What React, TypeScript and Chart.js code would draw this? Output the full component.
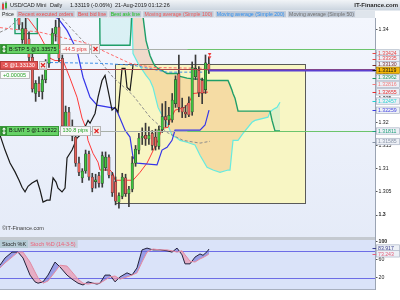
import React, { useEffect, useRef } from 'react';
import { Chart, registerables } from 'chart.js';

Chart.register(...registerables);

const FONT = "'Liberation Sans', Arial, sans-serif";

// ---------------- candles (trading-day index, 0 = 03-Jun-2019) ----------------
const opens = [
  1.3440, 1.3378, 1.3402, 1.3380, 1.3340, 1.3262, 1.3284, 1.3266, 1.3292, 1.3326,
  1.3360, 1.3390, 1.3405, 1.3338, 1.3190, 1.3222, 1.3190, 1.3168, 1.3112, 1.3080,
  1.3095, 1.3132, 1.3082, 1.3072, 1.3085, 1.3068, 1.3102, 1.3125, 1.3086, 1.3072,
  1.3028, 1.3040, 1.3080, 1.3046, 1.3056, 1.3112, 1.3140, 1.3166, 1.3172, 1.3164,
  1.3176, 1.3168, 1.3148, 1.3184, 1.3212, 1.3205, 1.3205, 1.3240, 1.3305, 1.3232,
  1.3222, 1.3242, 1.3222, 1.3298, 1.3312, 1.3290, 1.3270, 1.3326,
];
const highs = [
  1.3460, 1.3415, 1.3425, 1.3395, 1.3350, 1.3290, 1.3298, 1.3302, 1.3335, 1.3368,
  1.3402, 1.3420, 1.3430, 1.3345, 1.3235, 1.3232, 1.3205, 1.3178, 1.3125, 1.3100,
  1.3140, 1.3138, 1.3090, 1.3088, 1.3092, 1.3136, 1.3136, 1.3130, 1.3092, 1.3082,
  1.3048, 1.3090, 1.3088, 1.3062, 1.3126, 1.3150, 1.3176, 1.3188, 1.3198, 1.3190,
  1.3182, 1.3185, 1.3192, 1.3240, 1.3245, 1.3232, 1.3262, 1.3300, 1.3345, 1.3252,
  1.3236, 1.3255, 1.3330, 1.3345, 1.3320, 1.3295, 1.3345, 1.3340,
];
const lows = [
  1.3400, 1.3370, 1.3350, 1.3330, 1.3265, 1.3245, 1.3255, 1.3250, 1.3285, 1.3318,
  1.3350, 1.3375, 1.3330, 1.3180, 1.3178, 1.3180, 1.3160, 1.3105, 1.3085, 1.3070,
  1.3090, 1.3075, 1.3050, 1.3058, 1.3060, 1.3060, 1.3096, 1.3080, 1.3040, 1.3022,
  1.3015, 1.3035, 1.3040, 1.3018, 1.3050, 1.3105, 1.3132, 1.3152, 1.3150, 1.3152,
  1.3140, 1.3140, 1.3142, 1.3178, 1.3190, 1.3195, 1.3200, 1.3232, 1.3222, 1.3210,
  1.3210, 1.3212, 1.3215, 1.3292, 1.3255, 1.3240, 1.3262, 1.3305,
];
const closes = [
  1.3410, 1.3402, 1.3358, 1.3340, 1.3272, 1.3284, 1.3266, 1.3292, 1.3326, 1.3360,
  1.3392, 1.3405, 1.3338, 1.3192, 1.3222, 1.3190, 1.3170, 1.3112, 1.3092, 1.3095,
  1.3132, 1.3082, 1.3058, 1.3076, 1.3068, 1.3128, 1.3125, 1.3086, 1.3048, 1.3030,
  1.3042, 1.3082, 1.3046, 1.3056, 1.3112, 1.3142, 1.3166, 1.3170, 1.3164, 1.3172,
  1.3150, 1.3148, 1.3184, 1.3212, 1.3205, 1.3215, 1.3248, 1.3292, 1.3232, 1.3222,
  1.3218, 1.3216, 1.3318, 1.3316, 1.3264, 1.3262, 1.3328, 1.33119,
];

// ---------------- x axis ----------------
const X_MIN = -5.71;
const X_MAX = 106.9;
const xTickIdx = [0, 3.6, 7.2, 11.4, 15.3, 20.4, 24.0, 27.9, 32.1, 36.3, 42.9, 48.4, 52.9, 57.1, 61.0, 64.0, 69.1, 73.3, 77.5, 81.7, 85.3, 89.2, 93.1, 97.3, 101.5];
const xTickLabels = ['Jun', '06', '12', '18', '24', 'Jul', '05', '11', '17', '23', 'Aug', '09', '15', '21', '27', 'Sep', '08', '13', '19', '25', 'Oct', '07', '13', '18', '24'];
const monthLabels = ['Jun', 'Jul', 'Aug', 'Sep', 'Oct'];

// ---------------- price axis ----------------
const Y_MIN = 1.29656;
const Y_MAX = 1.34247;
const yTicks = [1.3, 1.305, 1.31, 1.315, 1.32, 1.325, 1.33, 1.335, 1.34];

// ---------------- Ichimoku cloud (Senkou A cyan / Senkou B green) ----------------
const cloudIdx = [
  -5.71, -1.29, -1.20, 5.41, 5.50, 24.23, 24.32, 33.33, 33.63, 33.93, 34.23, 35.74, 36.94, 38.14,
  39.34, 40.24, 40.84, 41.74, 42.94, 44.45, 45.95, 47.45, 48.35, 50.45, 52.85, 54.35, 56.46, 58.26,
  60.36, 62.76, 63.36, 63.96, 64.26, 64.86, 65.77, 67.27, 69.97, 70.87, 74.77, 75.38, 75.98, 76.88,
  77.48, 78.38,
];
const senkouA = [
  1.3445, 1.3445, 1.3445, 1.3445, 1.3445, 1.3445, 1.3445, 1.3445, 1.3445, 1.3445, 1.3348, 1.3327, 1.3314, 1.3301,
  1.3290, 1.3275, 1.3258, 1.3232, 1.3215, 1.3198, 1.3172, 1.3166, 1.3161, 1.3157, 1.3151, 1.3129, 1.3103, 1.3097,
  1.3092, 1.3097, 1.3097, 1.3140, 1.3161, 1.3161, 1.3161, 1.3176, 1.3200, 1.3204, 1.3211, 1.3222, 1.3226, 1.3230,
  1.3232, 1.3243,
];
const senkouB = [
  1.3445, 1.3445, 1.3391, 1.3391, 1.3445, 1.3445, 1.3366, 1.3366, 1.3400, 1.3445, 1.3445, 1.3445, 1.3445, 1.3376,
  1.3344, 1.3329, 1.3321, 1.3316, 1.3312, 1.3305, 1.3305, 1.3305, 1.3299, 1.3295, 1.3293, 1.3293, 1.3290, 1.3290,
  1.3290, 1.3290, 1.3280, 1.3269, 1.3262, 1.3252, 1.3224, 1.3224, 1.3224, 1.3224, 1.3224, 1.3224, 1.3204, 1.3181,
  1.3181, 1.3181,
];

// Tenkan (red)
const tenkanIdx = [-5.71, 2.70, 5.41, 7.81, 9.31, 10.81, 13.21, 15.31, 17.42, 18.92, 20.12, 20.72, 22.22, 23.72, 24.32, 27.33, 28.23, 28.83, 34.23, 36.34, 38.44, 39.34, 41.74, 42.94, 44.75, 45.35, 46.85, 49.85, 51.36, 52.26, 56.76];
const tenkanVal = [1.3460, 1.3424, 1.3398, 1.3366, 1.3338, 1.3333, 1.3333, 1.3295, 1.3254, 1.3209, 1.3187, 1.3161, 1.3133, 1.3114, 1.3097, 1.3097, 1.3090, 1.3075, 1.3075, 1.3092, 1.3112, 1.3125, 1.3161, 1.3187, 1.3189, 1.3204, 1.3226, 1.3232, 1.3247, 1.3262, 1.3265];

// Kijun (blue)
const kijunIdx = [-5.71, 11.71, 14.41, 17.42, 19.22, 21.32, 23.42, 28.83, 29.73, 31.83, 33.33, 34.23, 35.43, 41.44, 42.94, 44.45, 45.95, 46.85, 54.35, 55.86, 57.06];
const kijunVal = [1.3470, 1.3424, 1.3398, 1.3355, 1.3297, 1.3254, 1.3237, 1.3230, 1.3219, 1.3183, 1.3168, 1.3125, 1.3112, 1.3108, 1.3140, 1.3146, 1.3161, 1.3183, 1.3183, 1.3194, 1.3226];

// Chikou (black, lagging close)
const chikouIdx = [-5.70, -4.20, -2.70, -1.20, 0.01, 0.91, 1.81, 2.71, 3.91, 5.41, 6.31, 7.21, 8.41, 9.32, 10.22, 11.12, 11.72, 12.92, 13.82, 14.42, 15.92, 17.42, 18.92, 20.73, 21.33, 22.83, 23.73, 24.93, 25.83, 26.73, 27.93, 28.83, 29.74, 30.94, 31.84, 32.44, 33.34, 34.24];
const chikouVal = [1.3172, 1.3140, 1.3112, 1.3093, 1.3075, 1.3060, 1.3050, 1.3062, 1.3069, 1.3075, 1.3054, 1.3028, 1.3032, 1.3032, 1.3080, 1.3071, 1.3058, 1.3050, 1.3058, 1.3123, 1.3140, 1.3166, 1.3176, 1.3204, 1.3198, 1.3219, 1.3254, 1.3290, 1.3301, 1.3269, 1.3226, 1.3232, 1.3222, 1.3316, 1.3316, 1.3275, 1.3269, 1.3323];

// Moving averages (dashed)
const ma50Idx = [-5.71, -3.30, -0.30, 3.30, 12.91, 16.22, 21.32, 28.23, 34.23, 39.34, 44.45, 49.25, 54.35, 57.36];
const ma50Val = [1.3394, 1.3402, 1.3422, 1.3440, 1.3424, 1.3398, 1.3359, 1.3297, 1.3258, 1.3211, 1.3178, 1.3161, 1.3155, 1.3159];
const ma100Idx = [-5.71, 6.31, 20.42, 33.33, 40.24, 57.36];
const ma100Val = [1.3404, 1.3394, 1.3370, 1.3327, 1.3318, 1.3316];
const ma200Idx = [-5.71, 7.21, 24.32, 34.23, 44.45, 57.36];
const ma200Val = [1.3329, 1.3329, 1.3327, 1.3323, 1.3308, 1.3308];

// ---------------- Stochastic (14-3-5) ----------------
const stochIdx = [-5.71, -4.20, -2.10, -0.30, 1.20, 3.30, 4.80, 5.71, 7.21, 8.71, 10.81, 12.31, 14.41, 15.92, 17.72, 19.22, 20.72, 22.22, 23.42, 24.32, 25.83, 27.33, 28.83, 30.33, 32.43, 33.93, 35.43, 36.94, 38.44, 40.24, 42.34, 44.45, 45.95, 47.45, 48.95, 49.85, 51.35, 52.85, 54.35, 55.25, 56.46, 57.06];
const stochK = [48, 64, 77, 77, 64, 26, 11, 8, 11, 26, 55, 44, 26, 17, 8, 4, 11, 8, 6, 8, 26, 26, 11, 22, 31, 26, 42, 82, 86, 82, 82, 80, 77, 86, 71, 51, 51, 66, 73, 70, 78, 83.917];
const stochD = [42, 53, 66, 77, 77, 55, 33, 20, 8, 13, 33, 48, 46, 33, 17, 8, 6, 8, 8, 8, 15, 22, 24, 17, 22, 26, 31, 55, 77, 84, 82, 82, 80, 77, 80, 71, 57, 55, 62, 65, 70, 73.243];
const STOCH_MIN = -4.9;
const STOCH_MAX = 124;
const stochTicks = [20, 40, 60, 80, 100];
const stochLevels = [20, 80];
const stochTagValues = [83.917, 73.243];
const stochTagColors = ['#3a3f8f', '#e2607c'];

// ---------------- orders / annotations ----------------
const CURRENT_PRICE = 1.33119;
const LAST_IDX = 57;
const stopOrder = { price: 1.33575, text: 'B:STP 5 @1.33575', pips: '-44.5 pips' };
const limitOrder = { price: 1.31822, text: 'B:LMT 5 @1.31822', pips: '130.8 pips' };
const positionLine = { price: 1.3313, text: '-5 @1.33130', pnl: '+0.00005' };
const ORDER_SPLIT_IDX = 50.5;
const zoneIdx = [28.8, 85.9];
const zonePrice = [1.30258, 1.33247];
const execIdx = [57.25, 57.25];
const execPrice = [1.3346, 1.3339];

const tagValues = [1.33424, 1.33335, 1.3313, 1.33119, 1.32962, 1.32816, 1.32655, 1.32457, 1.32259, 1.31811, 1.31585];
const tagColors = ['#e64646', '#e64646', '#7a2b2b', '#111111', '#1d9a63', '#ef7d7d', '#e62a2a', '#23cfd0', '#3f3fe0', '#1fa07a', '#8893a6'];

const legendItems = ['Price', 'Recent executed orders', 'Best bid line', 'Best ask line', 'Moving average (Simple 100)', 'Moving average (Simple 200)', 'Moving average (Simple 50)'];
const legendColors = ['#222222', '#f04848', '#f04848', '#1fbf1f', '#f05858', '#2f8ff0', '#707070'];

const pts = (xs: number[], ys: number[]) => xs.map((x, k) => ({ x, y: ys[k] }));

function drawX(ctx: any, x: number, yc: number) {
  ctx.strokeStyle = '#e02424';
  ctx.lineWidth = 1.2;
  ctx.beginPath();
  ctx.moveTo(x - 2, yc - 2);
  ctx.lineTo(x + 2, yc + 2);
  ctx.moveTo(x + 2, yc - 2);
  ctx.lineTo(x - 2, yc + 2);
  ctx.stroke();
}

function orderTicket(ctx: any, yc: number, text: string, pips: string, pipsColor: string) {
  ctx.font = `5.5px ${FONT}`;
  ctx.textAlign = 'left';
  ctx.textBaseline = 'middle';
  const h = 10;
  const top = Math.round(yc - h / 2);
  const w1 = Math.ceil(ctx.measureText(text).width) + 11;
  ctx.fillStyle = '#66d266';
  ctx.fillRect(0, top, w1, h);
  ctx.strokeStyle = '#3b9a3b';
  ctx.lineWidth = 1;
  ctx.strokeRect(0.5, top + 0.5, w1 - 1, h - 1);
  ctx.fillStyle = '#2f8f2f';
  ctx.fillRect(1, top + 1, 6, h - 2);
  ctx.fillStyle = '#ffffff';
  ctx.fillRect(3.5, top + 3, 1, h - 6);
  ctx.beginPath();
  ctx.moveTo(2, top + 3.5); ctx.lineTo(4, top + 1.5); ctx.lineTo(6, top + 3.5); ctx.closePath(); ctx.fill();
  ctx.beginPath();
  ctx.moveTo(2, top + h - 3.5); ctx.lineTo(4, top + h - 1.5); ctx.lineTo(6, top + h - 3.5); ctx.closePath(); ctx.fill();
  ctx.fillStyle = '#111111';
  ctx.fillText(text, 9, yc + 0.3);
  const x2 = w1 + 1;
  const w2 = Math.ceil(ctx.measureText(pips).width) + 5;
  ctx.fillStyle = '#f7f7f7';
  ctx.fillRect(x2, top, w2, h);
  ctx.strokeStyle = '#b5b5b5';
  ctx.strokeRect(x2 + 0.5, top + 0.5, w2 - 1, h - 1);
  ctx.fillStyle = pipsColor;
  ctx.fillText(pips, x2 + 2.5, yc + 0.3);
  const x3 = x2 + w2 + 1;
  ctx.fillStyle = '#efefef';
  ctx.fillRect(x3, top, 9, h);
  ctx.strokeStyle = '#b5b5b5';
  ctx.lineWidth = 1;
  ctx.strokeRect(x3 + 0.5, top + 0.5, 8, h - 1);
  drawX(ctx, x3 + 4.5, top + h / 2);
}

function positionTicket(ctx: any, yLine: number, text: string, pnl: string) {
  ctx.font = `5.5px ${FONT}`;
  ctx.textAlign = 'left';
  ctx.textBaseline = 'middle';
  const yl = Math.round(yLine);
  const w1 = Math.ceil(ctx.measureText(text).width) + 6;
  const top = yl - 9;
  ctx.fillStyle = '#e35757';
  ctx.fillRect(0, top, w1, 8.5);
  ctx.strokeStyle = '#b53a3a';
  ctx.lineWidth = 1;
  ctx.strokeRect(0.5, top + 0.5, w1 - 1, 7.5);
  ctx.fillStyle = '#ffffff';
  ctx.fillText(text, 3, top + 4.5);
  const xc = w1 + 1;
  ctx.fillStyle = '#efefef';
  ctx.fillRect(xc, top, 8, 8.5);
  ctx.strokeStyle = '#b5b5b5';
  ctx.strokeRect(xc + 0.5, top + 0.5, 7, 7.5);
  drawX(ctx, xc + 4, top + 4.25);
  const w2 = Math.ceil(ctx.measureText(pnl).width) + 6;
  const top2 = yl + 1;
  ctx.fillStyle = '#fbfbfb';
  ctx.fillRect(0, top2, w2, 8);
  ctx.strokeStyle = '#bdbdbd';
  ctx.lineWidth = 1;
  ctx.strokeRect(0.5, top2 + 0.5, w2 - 1, 7);
  ctx.fillStyle = '#27a327';
  ctx.fillText(pnl, 3, top2 + 4.2);
}

function drawTags(ctx: any, scale: any, values: number[], colors: string[], digits: number, goldValue: number | null) {
  const order = values.map((_, k) => k).sort((a, b) => values[a] - values[b]);
  const ys: number[] = [];
  let last = Infinity;
  for (const k of order) {
    const nat = scale.getPixelForValue(values[k]);
    const yy = Math.min(nat, last - 5.8);
    ys[k] = yy;
    last = yy;
  }
  const h = 6.4;
  ctx.font = `5.2px ${FONT}`;
  ctx.textAlign = 'left';
  ctx.textBaseline = 'middle';
  for (const k of order.slice().reverse()) {
    const yc = ys[k];
    const gold = goldValue !== null && values[k] === goldValue;
    ctx.strokeStyle = colors[k];
    ctx.lineWidth = 1;
    ctx.beginPath();
    ctx.moveTo(372.5, Math.round(yc) + 0.5);
    ctx.lineTo(376.5, Math.round(yc) + 0.5);
    ctx.stroke();
    ctx.fillStyle = gold ? '#f3b507' : '#edf0f6';
    ctx.fillRect(376.5, yc - h / 2, 23, h);
    ctx.strokeStyle = gold ? '#a87e00' : '#aab3c4';
    ctx.lineWidth = 0.7;
    ctx.strokeRect(376.5, yc - h / 2, 23, h);
    ctx.fillStyle = colors[k];
    ctx.fillText(values[k].toFixed(digits), 378, yc + 0.3);
  }
}

const decor = {
  id: 'decor',
  beforeDraw(chart: any) {
    const { ctx, chartArea: ca } = chart;
    const yM = chart.scales.y;
    const y2 = chart.scales.y2;
    ctx.save();
    ctx.fillStyle = '#ffffff';
    ctx.fillRect(0, 0, chart.width, chart.height);
    let g = ctx.createLinearGradient(0, 0, 0, 10.5);
    g.addColorStop(0, '#f1f4f7');
    g.addColorStop(1, '#c9d3de');
    ctx.fillStyle = g;
    ctx.fillRect(0, 0, chart.width, 10.5);
    ctx.fillStyle = '#dfe5ec';
    ctx.fillRect(0, 10.5, ca.right, yM.top - 10.5);
    const bandTop = y2.top + 6;
    g = ctx.createLinearGradient(0, yM.top, 0, bandTop);
    g.addColorStop(0, '#f3f6fd');
    g.addColorStop(1, '#e5ebf8');
    ctx.fillStyle = g;
    ctx.fillRect(ca.left, yM.top, ca.right - ca.left, bandTop - yM.top);
    ctx.fillStyle = '#c4c9d0';
    ctx.fillRect(ca.left, bandTop, ca.right - ca.left, 3);
    ctx.fillStyle = '#dae3f9';
    ctx.fillRect(ca.left, bandTop + 3, ca.right - ca.left, ca.bottom - bandTop - 3);
    ctx.restore();
  },
  beforeDatasetsDraw(chart: any) {
    const { ctx, chartArea: ca } = chart;
    const x = chart.scales.x;
    const yM = chart.scales.y;
    const y2 = chart.scales.y2;
    ctx.save();
    const x0 = Math.round(x.getPixelForValue(zoneIdx[0])) + 0.5;
    const x1 = Math.round(x.getPixelForValue(zoneIdx[1])) + 0.5;
    const yb = Math.round(yM.getPixelForValue(zonePrice[0])) + 0.5;
    const yt = Math.round(yM.getPixelForValue(zonePrice[1])) + 0.5;
    ctx.fillStyle = '#f8f6c4';
    ctx.fillRect(x0, yt, x1 - x0, yb - yt);
    ctx.strokeStyle = '#5a5a5a';
    ctx.lineWidth = 1;
    ctx.strokeRect(x0, yt, x1 - x0, yb - yt);
    ctx.strokeStyle = '#6d6de6';
    for (const lv of stochLevels) {
      const py = Math.round(y2.getPixelForValue(lv)) + 0.5;
      ctx.beginPath();
      ctx.moveTo(ca.left, py);
      ctx.lineTo(ca.right, py);
      ctx.stroke();
    }
    ctx.restore();
  },
  afterDatasetsDraw(chart: any) {
    const { ctx, chartArea: ca } = chart;
    const x = chart.scales.x;
    const yM = chart.scales.y;
    ctx.save();
    ctx.beginPath();
    ctx.rect(ca.left, yM.top, ca.right - ca.left, yM.bottom - yM.top);
    ctx.clip();
    const xs = x.getPixelForValue(ORDER_SPLIT_IDX);
    for (const p of [stopOrder.price, limitOrder.price]) {
      const py = Math.round(yM.getPixelForValue(p)) + 0.5;
      ctx.lineWidth = 1;
      ctx.strokeStyle = '#a9b0a9';
      ctx.beginPath(); ctx.moveTo(ca.left, py); ctx.lineTo(xs, py); ctx.stroke();
      ctx.strokeStyle = '#6cc46c';
      ctx.beginPath(); ctx.moveTo(xs, py); ctx.lineTo(ca.right, py); ctx.stroke();
    }
    const pp = Math.round(yM.getPixelForValue(positionLine.price)) - 0.5;
    ctx.strokeStyle = '#a84a4a';
    ctx.lineWidth = 1;
    ctx.beginPath(); ctx.moveTo(ca.left, pp); ctx.lineTo(ca.right, pp); ctx.stroke();
    const cp = Math.round(yM.getPixelForValue(CURRENT_PRICE)) + 0.5;
    ctx.strokeStyle = '#5b3fd0';
    ctx.lineWidth = 2;
    ctx.beginPath(); ctx.moveTo(x.getPixelForValue(LAST_IDX), cp); ctx.lineTo(ca.right, cp); ctx.stroke();
    ctx.fillStyle = '#f03a3a';
    execIdx.forEach((ix, k) => {
      const px = x.getPixelForValue(ix);
      const py = yM.getPixelForValue(execPrice[k]);
      ctx.beginPath();
      ctx.moveTo(px - 1.8, py - 1.5);
      ctx.lineTo(px + 1.8, py - 1.5);
      ctx.lineTo(px, py + 1.5);
      ctx.closePath();
      ctx.fill();
    });
    ctx.restore();
  },
  afterDraw(chart: any) {
    const { ctx } = chart;
    const yM = chart.scales.y;
    const y2 = chart.scales.y2;
    ctx.save();
    orderTicket(ctx, yM.getPixelForValue(stopOrder.price), stopOrder.text, stopOrder.pips, '#e23a3a');
    positionTicket(ctx, yM.getPixelForValue(positionLine.price), positionLine.text, positionLine.pnl);
    orderTicket(ctx, yM.getPixelForValue(limitOrder.price), limitOrder.text, limitOrder.pips, '#27a327');
    ctx.font = `5.5px ${FONT}`;
    ctx.textAlign = 'left';
    ctx.textBaseline = 'middle';
    ctx.fillStyle = '#3a3a3a';
    ctx.fillText('\u00a9IT-Finance.com', 2, yM.bottom - 2.5);
    const sTop = y2.top + 9;
    const t1 = 'Stoch %K';
    const t2 = 'Stoch %D (14-3-5)';
    const w1 = ctx.measureText(t1).width + 4;
    const w2 = ctx.measureText(t2).width + 4;
    ctx.fillStyle = '#b5cbd5';
    ctx.fillRect(0, sTop, w1, 8);
    ctx.fillStyle = '#c8d0de';
    ctx.fillRect(w1, sTop, w2, 8);
    ctx.fillStyle = '#1e1e1e';
    ctx.fillText(t1, 2, sTop + 4.2);
    ctx.fillStyle = '#ee5f78';
    ctx.fillText(t2, w1 + 2, sTop + 4.2);
    // header icon
    ctx.fillStyle = '#555';
    ctx.fillRect(5.5, 1.5, 1, 8);
    ctx.fillRect(2.5, 2.5, 1, 8);
    ctx.fillStyle = '#e04040';
    ctx.fillRect(2, 4, 2, 5);
    ctx.fillStyle = '#3aa83a';
    ctx.fillRect(5, 3, 2, 5);
    ctx.font = `5.5px ${FONT}`;
    ctx.fillStyle = '#1a1a1a';
    ctx.fillText('USD/CAD Mini', 10, 5.5);
    ctx.fillText('Daily', 50, 5.5);
    ctx.fillText('1.33119 (-0.06%)', 70, 5.5);
    ctx.fillText('21-Aug-2019 01:12:26', 115, 5.5);
    ctx.font = `bold 6px ${FONT}`;
    ctx.textAlign = 'right';
    ctx.fillStyle = '#2a2a2a';
    ctx.fillText('IT-Finance.com', 398, 5.5);
    ctx.textAlign = 'left';
    ctx.font = `5.2px ${FONT}`;
    let lx = 0;
    legendItems.forEach((t, k) => {
      const w = ctx.measureText(t).width + 4;
      ctx.fillStyle = k === 0 ? '#e9edf1' : '#bfc9d6';
      ctx.fillRect(lx, 10.5, w, 7.5);
      ctx.strokeStyle = '#f2f4f7';
      ctx.lineWidth = 0.6;
      ctx.strokeRect(lx + 0.3, 10.8, w - 0.6, 6.9);
      ctx.fillStyle = legendColors[k];
      ctx.fillText(t, lx + 2, 14.4);
      lx += w + 0.5;
    });
    drawTags(ctx, yM, tagValues, tagColors, 5, CURRENT_PRICE);
    drawTags(ctx, y2, stochTagValues, stochTagColors, 3, null);
    ctx.restore();
  },
};

export default function App() {
  const canvasRef = useRef<HTMLCanvasElement | null>(null);

  useEffect(() => {
    const canvas = canvasRef.current;
    if (!canvas) return;
    document.body.style.margin = '0';
    const idx = opens.map((_, i) => i);
    const wicks = idx.map((i) => ({ x: i, y: [lows[i], highs[i]] }));
    const bodies = idx.map((i) => ({ x: i, y: [opens[i], closes[i]] }));
    const bodyColors = idx.map((i) => (closes[i] >= opens[i] ? '#3ec43e' : '#e8605a'));

    const line = (data: any, color: string, width: number, order: number, extra: any = {}) => ({
      type: 'line',
      data,
      borderColor: color,
      borderWidth: width,
      pointRadius: 0,
      tension: 0,
      fill: false,
      order,
      yAxisID: 'y',
      ...extra,
    });

    const chart = new Chart(canvas, {
      type: 'line',
      data: {
        datasets: [
          line(pts(cloudIdx, senkouA), '#66ebe0', 1.2, 10, {
            fill: { target: '+1', above: 'rgba(130,225,218,0.22)', below: 'rgba(240,160,90,0.30)' },
          }),
          line(pts(cloudIdx, senkouB), '#1f9e68', 1.4, 9),
          line(pts(ma100Idx, ma100Val), '#ff6a6a', 1, 8, { borderDash: [3, 2] }),
          line(pts(ma200Idx, ma200Val), '#3d8fe8', 1, 8, { borderDash: [3, 2] }),
          line(pts(ma50Idx, ma50Val), '#8c8c8c', 1, 8, { borderDash: [3, 2] }),
          line(pts(kijunIdx, kijunVal), '#3535e8', 1.2, 7),
          line(pts(tenkanIdx, tenkanVal), '#ff3a3a', 1, 7),
          line(pts(chikouIdx, chikouVal), '#1a1a1a', 1.2, 6),
          {
            type: 'bar',
            data: wicks,
            backgroundColor: '#3a3a3a',
            barThickness: 1,
            grouped: false,
            order: 5,
            yAxisID: 'y',
          },
          {
            type: 'bar',
            data: bodies,
            backgroundColor: bodyColors,
            borderColor: '#2a2a2a',
            borderWidth: 0.5,
            borderSkipped: false,
            barThickness: 2.4,
            minBarLength: 1,
            grouped: false,
            order: 4,
            yAxisID: 'y',
          },
          {
            type: 'line',
            data: pts(stochIdx, stochK),
            borderColor: '#23233c',
            borderWidth: 1,
            pointRadius: 0,
            tension: 0,
            fill: { target: '+1', above: 'rgba(100,100,215,0.55)', below: 'rgba(235,150,175,0.70)' },
            order: 3,
            yAxisID: 'y2',
          },
          {
            type: 'line',
            data: pts(stochIdx, stochD),
            borderColor: '#e58aa0',
            borderWidth: 1,
            pointRadius: 0,
            tension: 0,
            fill: false,
            order: 2,
            yAxisID: 'y2',
          },
        ] as any,
      },
      options: {
        responsive: false,
        devicePixelRatio: 1,
        animation: false,
        events: [],
        layout: { padding: { top: 18, left: 0, right: 0, bottom: 0 } },
        plugins: {
          legend: { display: false },
          tooltip: { enabled: false },
        },
        scales: {
          x: {
            type: 'linear',
            min: X_MIN,
            max: X_MAX,
            offset: false,
            grid: { display: false },
            border: { display: true, color: '#a8b0c0' },
            afterBuildTicks: (s: any) => {
              s.ticks = xTickIdx.map((v) => ({ value: v }));
            },
            afterFit: (s: any) => {
              s.height = 11;
            },
            ticks: {
              autoSkip: false,
              maxRotation: 0,
              minRotation: 0,
              padding: 3,
              color: '#222',
              font: (c: any) => ({
                family: FONT,
                size: 5.2,
                weight: monthLabels.includes(xTickLabels[c.index]) ? 'bold' : 'normal',
              }),
              callback: (_v: any, i: number) => xTickLabels[i],
            },
          },
          y: {
            type: 'linear',
            position: 'right',
            stack: 'panes',
            stackWeight: 213,
            min: Y_MIN,
            max: Y_MAX,
            grid: { display: true, drawOnChartArea: false, drawTicks: true, tickLength: 2.5, color: '#555' },
            border: { display: true, color: '#9aa3b2' },
            afterBuildTicks: (s: any) => {
              s.ticks = yTicks.map((v) => ({ value: v }));
            },
            afterFit: (s: any) => {
              s.width = 25;
            },
            ticks: {
              padding: 1,
              color: '#222',
              font: (c: any) => ({
                family: FONT,
                size: 5.2,
                weight: c.tick && c.tick.value === 1.3 ? 'bold' : 'normal',
              }),
              callback: (v: any) => String(Number(Number(v).toFixed(3))),
            },
          },
          y2: {
            type: 'linear',
            position: 'right',
            stack: 'panes',
            stackWeight: 58,
            min: STOCH_MIN,
            max: STOCH_MAX,
            grid: { display: true, drawOnChartArea: false, drawTicks: true, tickLength: 2.5, color: '#555' },
            border: { display: true, color: '#9aa3b2' },
            afterBuildTicks: (s: any) => {
              s.ticks = stochTicks.map((v) => ({ value: v }));
            },
            afterFit: (s: any) => {
              s.width = 25;
            },
            ticks: {
              padding: 1,
              color: '#222',
              font: (c: any) => ({
                family: FONT,
                size: 5.2,
                weight: c.tick && c.tick.value === 100 ? 'bold' : 'normal',
              }),
              callback: (v: any) => String(v),
            },
          },
        },
      } as any,
      plugins: [decor],
    } as any);

    return () => chart.destroy();
  }, []);

  return (
    <canvas
      ref={canvasRef}
      width={400}
      height={300}
      style={{ display: 'block', position: 'fixed', left: 0, top: 0, width: 400, height: 300 }}
    />
  );
}
